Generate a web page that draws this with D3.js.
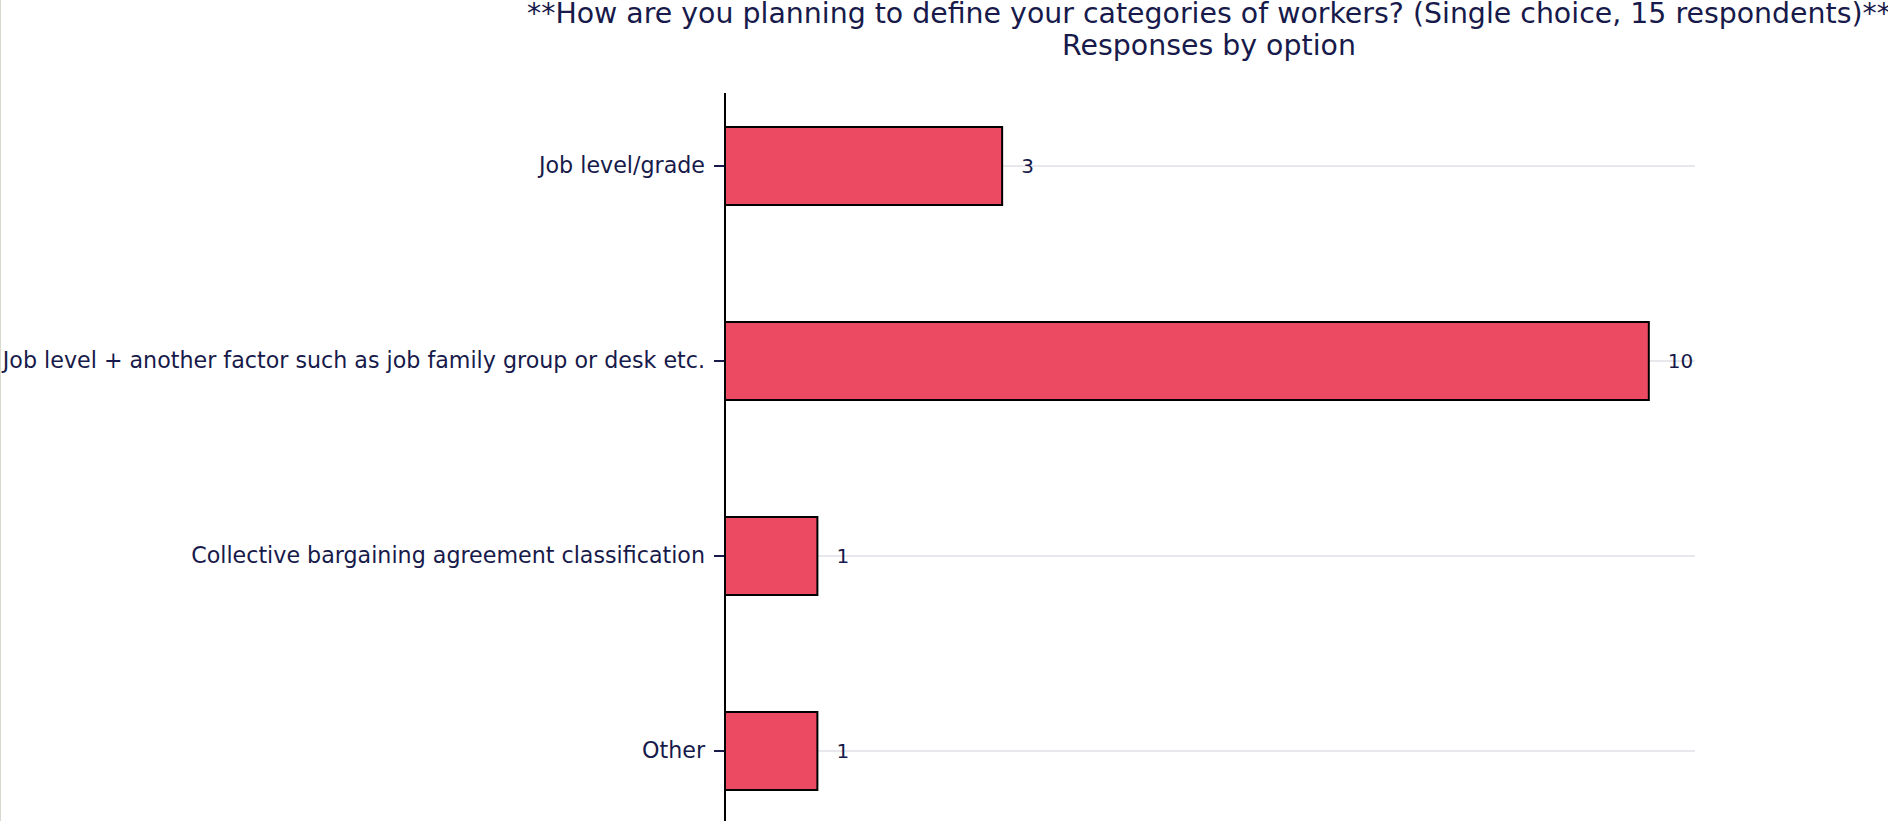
<!DOCTYPE html>
<html>
<head>
<meta charset="utf-8">
<script src="https://cdn.jsdelivr.net/npm/d3@7"></script>
<style>
  html, body { margin: 0; padding: 0; background: #fff; }
  svg { display: block; font-family: "DejaVu Sans", sans-serif; }
</style>
</head>
<body>
<div id="chart"></div>
<script>
// chart data
var categories = [
  "Job level/grade",
  "Job level + another factor such as job family group or desk etc.",
  "Collective bargaining agreement classification",
  "Other"
];
var counts = [3, 10, 1, 1];
var titleLines = [
  "**How are you planning to define your categories of workers? (Single choice, 15 respondents)**",
  "Responses by option"
];

var width = 1888, height = 821;
var textColor = "#171a4a";
var barColor = "#ec4a63";

var data = categories.map(function(c, i) { return {cat: c, value: counts[i]}; });

var svg = d3.select("#chart").append("svg")
    .attr("width", width)
    .attr("height", height);

// thin frame edge on the left
svg.append("line")
    .attr("x1", 0.5).attr("x2", 0.5)
    .attr("y1", 0).attr("y2", height)
    .style("stroke", "#d9d9d0")
    .style("stroke-width", 1);

// scales
var xScale = d3.scaleLinear().domain([0, 10.5]).range([725, 1695]);
var yScale = d3.scaleBand()
    .domain(categories)
    .range([68.5, 848.5])
    .paddingInner(0.6)
    .paddingOuter(0.3);

// grid lines at category centers
svg.append("g")
    .selectAll("line")
    .data(categories)
    .enter().append("line")
    .attr("x1", xScale(0))
    .attr("x2", xScale.range()[1])
    .attr("y1", function(d) { return yScale(d) + yScale.bandwidth() / 2; })
    .attr("y2", function(d) { return yScale(d) + yScale.bandwidth() / 2; })
    .style("stroke", "#e8e8ec")
    .style("stroke-width", 2);

// bars
svg.append("g")
    .selectAll("rect")
    .data(data)
    .enter().append("rect")
    .attr("x", xScale(0))
    .attr("y", function(d) { return yScale(d.cat); })
    .attr("width", function(d) { return xScale(d.value) - xScale(0); })
    .attr("height", yScale.bandwidth())
    .style("fill", barColor)
    .style("stroke", "#000")
    .style("stroke-width", 2);

// value labels
svg.append("g")
    .selectAll("text")
    .data(data)
    .enter().append("text")
    .attr("x", function(d) { return xScale(d.value) + 19; })
    .attr("y", function(d) { return yScale(d.cat) + yScale.bandwidth() / 2; })
    .attr("dy", "0.35em")
    .style("font-size", "20px")
    .style("fill", textColor)
    .text(function(d) { return d.value; });

// y axis
var yAxis = d3.axisLeft(yScale).tickSize(11).tickPadding(9).tickSizeOuter(0);
var axiY = svg.append("g")
    .attr("transform", "translate(" + xScale(0) + ",0)")
    .call(yAxis);
axiY.select(".domain").remove();
axiY.selectAll(".tick line").style("stroke", textColor).style("stroke-width", 2);
axiY.selectAll(".tick text")
    .style("font-size", "22.2px")
    .style("font-family", "DejaVu Sans, sans-serif")
    .style("fill", textColor);

svg.append("line")
    .attr("x1", xScale(0)).attr("x2", xScale(0))
    .attr("y1", 93).attr("y2", height)
    .style("stroke", "#000")
    .style("stroke-width", 2);

// title
svg.append("g")
    .selectAll("text")
    .data(titleLines)
    .enter().append("text")
    .attr("x", 1209)
    .attr("y", function(d, i) { return 23 + i * 32; })
    .attr("text-anchor", "middle")
    .style("font-size", "28.4px")
    .style("fill", textColor)
    .text(function(d) { return d; });
</script>
</body>
</html>
